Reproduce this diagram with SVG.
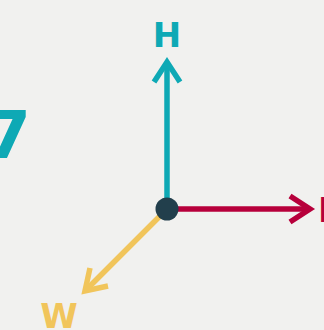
<svg xmlns="http://www.w3.org/2000/svg" width="324" height="330" viewBox="0 0 324 330">
<style>
.bg{fill:#f1f1ef}
.ax{fill:none;stroke-width:5.5;stroke-linecap:butt;stroke-linejoin:miter}
.lbl{font-family:"DejaVu Sans",sans-serif;font-weight:bold;font-size:34px;text-anchor:middle}
.teal{stroke:#0ea9b5}
.red{stroke:#b7003b}
.yel{stroke:#f1c55b}
</style>
<rect class="bg" x="0" y="0" width="324" height="330"/>
<g id="connectors">
  <g id="axis-h"><line class="ax teal" x1="167" y1="209" x2="167" y2="62"/><polyline class="ax teal" points="154,82 167,62 180,82"/></g>
  <g id="axis-l"><line class="ax red" x1="167" y1="209" x2="310" y2="209"/><polyline class="ax red" points="290,196 310,209 290,222"/></g>
  <g id="axis-w"><line class="ax yel" x1="167" y1="209" x2="85" y2="291"/><polyline class="ax yel" points="90,268 85,291 108,286"/></g>
</g>
<g id="origin"><circle cx="167" cy="209" r="11.5" fill="#223f4c"/></g>
<g id="label-h"><text class="lbl" x="167" y="47" fill="#0ea9b5">H</text></g>
<g id="label-l"><text class="lbl" x="318" y="222" fill="#b7003b" style="text-anchor:start">L</text></g>
<g id="label-w"><text class="lbl" x="59" y="328" fill="#f1c55b">W</text></g>
<g id="label-7"><text x="-15" y="158" fill="#0ea9b5" font-family="DejaVu Sans, sans-serif" font-weight="bold" font-size="66">7</text></g>
</svg>
